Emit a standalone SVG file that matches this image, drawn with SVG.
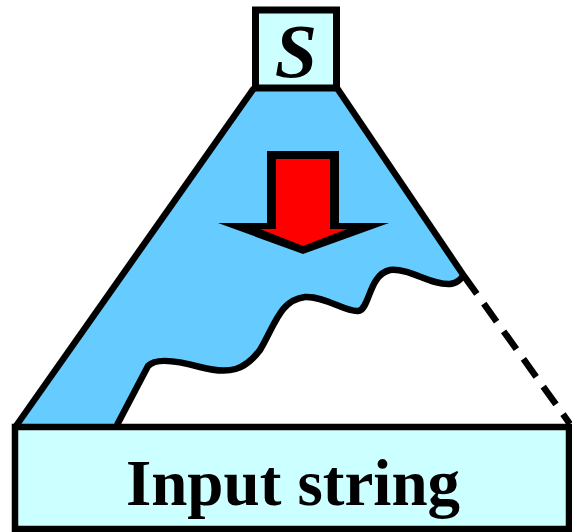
<svg xmlns="http://www.w3.org/2000/svg" width="572" height="532" viewBox="0 0 572 532">
<style>
.ln{fill:none;stroke:#000;stroke-width:6.5;stroke-linecap:butt;stroke-linejoin:round}
.lbl{font-family:"Liberation Serif","Times New Roman",serif;font-weight:bold;fill:#000}
</style>
<rect width="572" height="532" fill="#fff"/>
<g id="tree">
<path d="M 254 90 L 337 90 L 463 275 C 462 278 458 283 450 284 C 430 285 410 268 390 270 C 368 275 370 310 358 311 C 345 312 325 296 305 297 C 280 300 275 325 260 350 C 245 370 230 375 200 367 C 175 360 155 358 148 366 L 117 425 L 16 425 Z" fill="#66CCFF"/>
<path class="ln" d="M 463 275 C 462 278 458 283 450 284 C 430 285 410 268 390 270 C 368 275 370 310 358 311 C 345 312 325 296 305 297 C 280 300 275 325 260 350 C 245 370 230 375 200 367 C 175 360 155 358 148 366 L 117 425"/>
</g>
<g id="connectors">
<line class="ln" x1="254" y1="88" x2="16" y2="426"/>
<line class="ln" x1="337" y1="88" x2="464" y2="276"/>
<line class="ln" x1="464" y1="276" x2="570" y2="424" stroke-dasharray="22 12"/>
</g>
<g id="arrow">
<polygon points="267,151 339,151 339,223 389,223 303,254 218,223 267,223" fill="#000"/>
<polygon points="276,159 330,159 330,229 347,229 303,246 260,229 276,229" fill="#FF0000"/>
</g>
<g id="S">
<rect x="255.5" y="10" width="81" height="78" fill="#CCFFFF" stroke="#000" stroke-width="7"/>
<text class="lbl" x="296" y="77" font-size="76" font-style="italic" text-anchor="middle">S</text>
</g>
<g id="input">
<rect x="15" y="427" width="554" height="102" fill="#CCFFFF" stroke="#000" stroke-width="6.5"/>
<text class="lbl" x="293" y="505" font-size="65" text-anchor="middle">Input string</text>
</g>
</svg>
